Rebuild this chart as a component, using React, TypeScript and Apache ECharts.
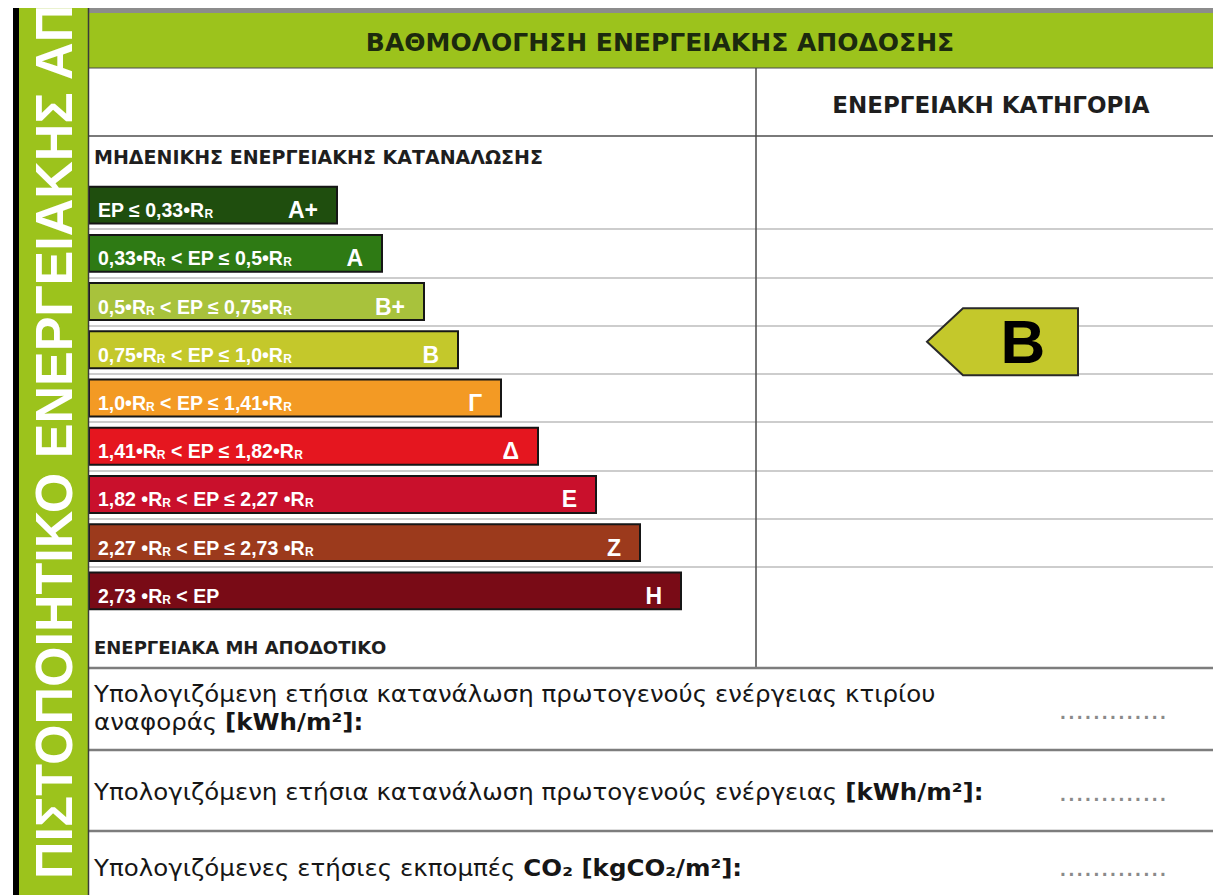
import React, { useEffect, useRef } from 'react';
import * as echarts from 'echarts';

// ---- data ----
const classes = ['A+', 'A', 'B+', 'B', 'Γ', 'Δ', 'Ε', 'Ζ', 'Η'];
const rangeLabels = [
  'EP ≤ 0,33•R{s|R}',
  '0,33•R{s|R} < EP ≤ 0,5•R{s|R}',
  '0,5•R{s|R} < EP ≤ 0,75•R{s|R}',
  '0,75•R{s|R} < EP ≤ 1,0•R{s|R}',
  '1,0•R{s|R} < EP ≤ 1,41•R{s|R}',
  '1,41•R{s|R} < EP ≤ 1,82•R{s|R}',
  '1,82 •R{s|R} < EP ≤ 2,27 •R{s|R}',
  '2,27 •R{s|R} < EP ≤ 2,73 •R{s|R}',
  '2,73 •R{s|R} < EP',
];
// bar lengths (axis units)
const barLengths = [248, 293, 335, 369, 412, 449, 507, 551, 592];
const currentClass = 'B';

const titleText = 'ΒΑΘΜΟΛΟΓΗΣΗ ΕΝΕΡΓΕΙΑΚΗΣ ΑΠΟΔΟΣΗΣ';
const categoryHeader = 'ΕΝΕΡΓΕΙΑΚΗ ΚΑΤΗΓΟΡΙΑ';
const topNote = 'ΜΗΔΕΝΙΚΗΣ ΕΝΕΡΓΕΙΑΚΗΣ ΚΑΤΑΝΑΛΩΣΗΣ';
const bottomNote = 'ΕΝΕΡΓΕΙΑΚΑ ΜΗ ΑΠΟΔΟΤΙΚΟ';
const sideText = 'ΠΙΣΤΟΠΟΙΗΤΙΚΟ ΕΝΕΡΓΕΙΑΚΗΣ ΑΠ';
const infoLines = [
  'Υπολογιζόμενη ετήσια κατανάλωση πρωτογενούς ενέργειας κτιρίου',
  'αναφοράς {b|[kWh/m²]:}',
  'Υπολογιζόμενη ετήσια κατανάλωση πρωτογενούς ενέργειας {b|[kWh/m²]:}',
  'Υπολογιζόμενες ετήσιες εκπομπές {b|CO₂ [kgCO₂/m²]:}',
];
const placeholder = '.............';

// ---- styles ----
const barColors = ['#1f4e0e', '#2e7a14', '#a8c23c', '#c4c82b', '#f39a24', '#e5161f', '#c9102c', '#9c3a1c', '#790b16'];
const GREEN = '#9cc31c';
const ARIAL = '"Liberation Sans", Arial, sans-serif';
const DEJAVU = '"DejaVu Sans", Verdana, sans-serif';

const ARROW_X = 838; // axis units for arrow tip

function buildOption(): any {
  const ratingIndex = classes.indexOf(currentClass);
  const infoStyleBase = {
    fill: '#161616',
    fontFamily: DEJAVU,
    fontSize: 23.5,
    align: 'left',
    verticalAlign: 'middle',
    rich: {
      b: { fontFamily: DEJAVU, fontSize: 23.5, fontWeight: 'bold', fill: '#161616' },
    },
  };
  const info = (text: string, y: number) => ({
    type: 'text',
    x: 94,
    y,
    z: 11,
    scaleX: 1.043,
    style: { ...infoStyleBase, text },
  });
  const dots = (y: number) => ({
    type: 'text',
    x: 1113,
    y,
    z: 20,
    style: { text: placeholder, fill: '#8a8a8a', fontFamily: ARIAL, fontSize: 30, align: 'center', verticalAlign: 'bottom' },
  });

  return {
    animation: false,
    grid: { left: 89, top: 181, width: 1124, height: 434, containLabel: false },
    xAxis: { type: 'value', min: 0, max: 1124, show: false },
    yAxis: {
      type: 'category',
      data: classes,
      inverse: true,
      axisLine: { show: false },
      axisTick: { show: false },
      axisLabel: { show: false },
      splitLine: { show: true, showMinLine: false, showMaxLine: false, lineStyle: { color: '#cdcdcd', width: 2 } },
    },
    series: [
      {
        type: 'custom',
        z: 3,
        data: barLengths.map((v, i) => [i, v]),
        encode: { x: 1, y: 0 },
        renderItem: (params: any, api: any) => {
          const i = api.value(0);
          const len = api.value(1);
          const p0 = api.coord([0, i]);
          const p1 = api.coord([len, i]);
          const band = api.size([0, 1])[1];
          const h = band * 0.765;
          const cy = p0[1];
          return {
            type: 'group',
            children: [
              {
                type: 'rect',
                shape: { x: p0[0], y: cy - h / 2, width: p1[0] - p0[0], height: h },
                style: { fill: barColors[i], stroke: '#161616', lineWidth: 2 },
              },
              {
                type: 'text',
                x: p0[0] + 9,
                y: cy + 5,
                style: {
                  text: rangeLabels[i],
                  fill: '#ffffff',
                  fontFamily: ARIAL,
                  fontWeight: 'bold',
                  fontSize: 19.5,
                  align: 'left',
                  verticalAlign: 'middle',
                  rich: {
                    s: { fontFamily: ARIAL, fontWeight: 'bold', fontSize: 12, fill: '#ffffff', padding: [8, 0, 0, 0] },
                  },
                },
              },
              {
                type: 'text',
                x: p1[0] - 19,
                y: cy + 5,
                style: {
                  text: classes[i],
                  fill: '#ffffff',
                  fontFamily: ARIAL,
                  fontWeight: 'bold',
                  fontSize: 23,
                  align: 'right',
                  verticalAlign: 'middle',
                },
              },
            ],
          };
        },
      },
      {
        type: 'custom',
        z: 4,
        data: [[ARROW_X, ratingIndex]],
        encode: { x: 0, y: 1 },
        renderItem: (params: any, api: any) => {
          const p = api.coord([api.value(0), api.value(1)]);
          const tx = p[0];
          const cy = p[1] - 8;
          const hh = 33.5;
          return {
            type: 'group',
            children: [
              {
                type: 'polygon',
                shape: {
                  points: [
                    [tx, cy],
                    [tx + 36, cy - hh],
                    [tx + 151, cy - hh],
                    [tx + 151, cy + hh],
                    [tx + 36, cy + hh],
                  ],
                },
                style: { fill: barColors[ratingIndex], stroke: '#2a2a2a', lineWidth: 2 },
              },
              {
                type: 'text',
                x: tx + 96,
                y: cy,
                style: {
                  text: classes[ratingIndex],
                  fill: '#000000',
                  fontFamily: ARIAL,
                  fontWeight: 'bold',
                  fontSize: 62,
                  align: 'center',
                  verticalAlign: 'middle',
                },
              },
            ],
          };
        },
      },
    ],
    graphic: {
      elements: [
        // left black rule and green band
        { type: 'rect', shape: { x: 13, y: 8, width: 6, height: 887 }, style: { fill: '#000' }, z: 10 },
        { type: 'rect', shape: { x: 19, y: 8, width: 69, height: 887 }, style: { fill: GREEN }, z: 10 },
        {
          type: 'text',
          x: 54,
          y: 879,
          rotation: Math.PI / 2,
          z: 11,
          style: { text: sideText, fill: '#ffffff', fontFamily: ARIAL, fontWeight: 'bold', fontSize: 52, align: 'left', verticalAlign: 'middle' },
        },
        { type: 'rect', shape: { x: 0, y: 0, width: 100, height: 8 }, style: { fill: '#ffffff' }, z: 12 },
        { type: 'line', shape: { x1: 88.5, y1: 8, x2: 88.5, y2: 895 }, style: { stroke: '#3a3a3a', lineWidth: 1.5 }, z: 12 },
        // header
        { type: 'rect', shape: { x: 89, y: 8, width: 1124, height: 5 }, style: { fill: '#8c8c8c' }, z: 10 },
        { type: 'rect', shape: { x: 89, y: 13, width: 1124, height: 55 }, style: { fill: GREEN }, z: 10 },
        { type: 'line', shape: { x1: 89, y1: 68, x2: 1213, y2: 68 }, style: { stroke: '#4a4a4a', lineWidth: 1 }, z: 11 },
        {
          type: 'text',
          x: 660,
          y: 42,
          z: 11,
          style: { text: titleText, fill: '#1c2a0e', fontFamily: DEJAVU, fontWeight: 'bold', fontSize: 25, align: 'center', verticalAlign: 'middle' },
        },
        // table lines
        { type: 'line', shape: { x1: 89, y1: 136, x2: 1213, y2: 136 }, style: { stroke: '#7a7a7a', lineWidth: 2 }, z: 10 },
        { type: 'line', shape: { x1: 756, y1: 68, x2: 756, y2: 668 }, style: { stroke: '#4a4a4a', lineWidth: 1.5 }, z: 10 },
        { type: 'line', shape: { x1: 89, y1: 668, x2: 1213, y2: 668 }, style: { stroke: '#7d7d7d', lineWidth: 2.5 }, z: 10 },
        { type: 'line', shape: { x1: 89, y1: 750, x2: 1213, y2: 750 }, style: { stroke: '#7d7d7d', lineWidth: 2.5 }, z: 10 },
        { type: 'line', shape: { x1: 89, y1: 831, x2: 1213, y2: 831 }, style: { stroke: '#7d7d7d', lineWidth: 2.5 }, z: 10 },
        {
          type: 'text',
          x: 991,
          y: 105,
          z: 11,
          style: { text: categoryHeader, fill: '#1e1e1e', fontFamily: DEJAVU, fontWeight: 'bold', fontSize: 23, align: 'center', verticalAlign: 'middle' },
        },
        {
          type: 'text',
          x: 94,
          y: 157,
          z: 11,
          style: { text: topNote, fill: '#1e1e1e', fontFamily: DEJAVU, fontWeight: 'bold', fontSize: 19, align: 'left', verticalAlign: 'middle' },
        },
        {
          type: 'text',
          x: 94,
          y: 647,
          z: 11,
          style: { text: bottomNote, fill: '#1e1e1e', fontFamily: DEJAVU, fontWeight: 'bold', fontSize: 18, align: 'left', verticalAlign: 'middle' },
        },
        // info rows
        info(infoLines[0], 694),
        info(infoLines[1], 722),
        info(infoLines[2], 792),
        info(infoLines[3], 868),
        dots(723),
        dots(805),
        dots(880),
      ],
    },
  };
}

export default function App() {
  const ref = useRef<HTMLDivElement>(null);
  useEffect(() => {
    if (!ref.current) return;
    const chart = echarts.init(ref.current, null, { renderer: 'svg' });
    chart.setOption(buildOption());
    return () => chart.dispose();
  }, []);
  return (
    <div
      ref={ref}
      style={{ position: 'absolute', left: 0, top: 0, width: 1213, height: 895, background: '#ffffff' }}
    />
  );
}
